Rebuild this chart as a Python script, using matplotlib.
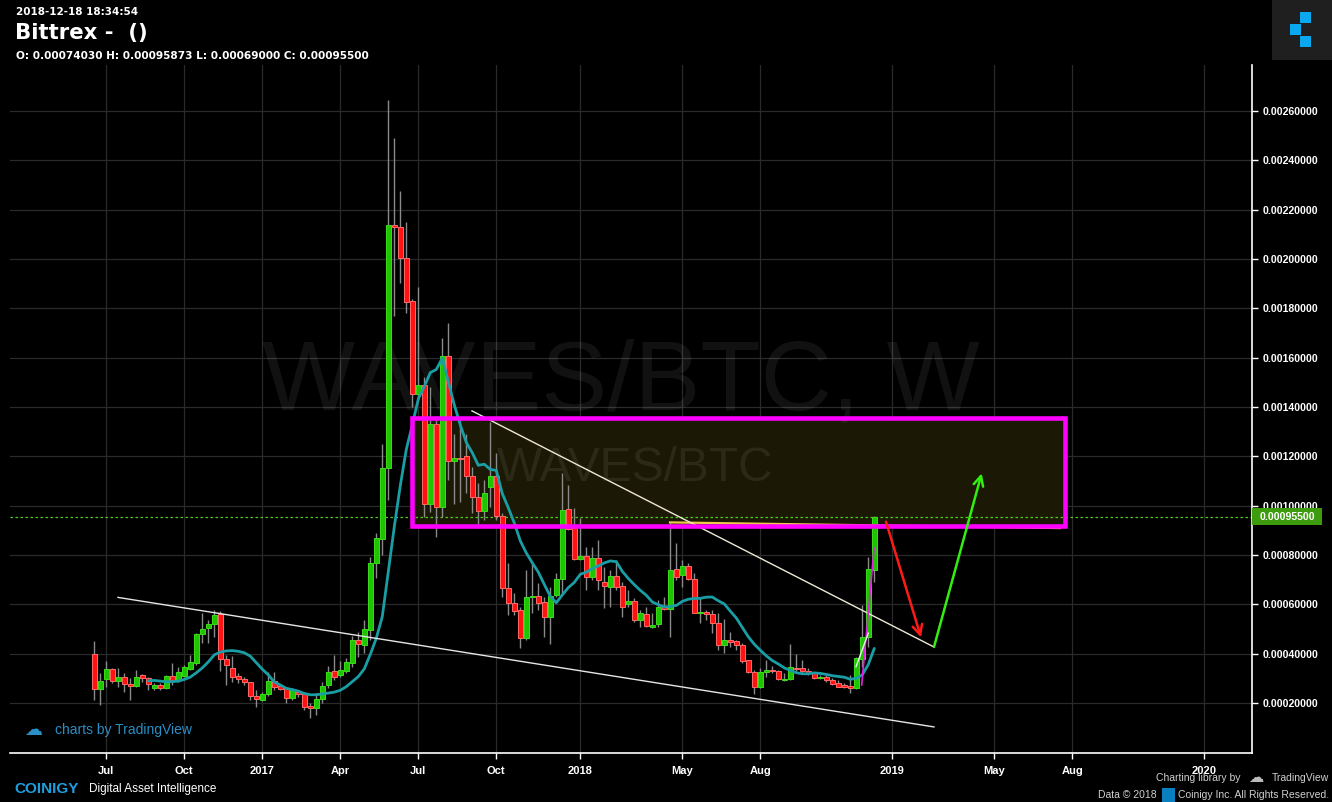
import numpy as np
import pandas as pd
import matplotlib
matplotlib.use("Agg")
import matplotlib.pyplot as plt
import matplotlib.dates as mdates
import matplotlib.transforms as mtransforms
from matplotlib.patches import Rectangle

# ---------------- data (weekly WAVES/BTC candles, prices in 1e-5 BTC) ----------------
FIRST_WEEK = "2016-06-20"
N_WEEKS = 131
OPEN_E5 = [39.7, 25.8, 29.9, 33.7, 28.8, 30.4, 27.7, 26.8, 31.2, 30.0,
           26.2, 27.2, 26.2, 30.8, 29.2, 31.1, 33.9, 36.3, 47.9, 50.3,
           51.9, 56.1, 37.7, 34.1, 30.8, 29.6, 28.4, 22.7, 21.3, 23.5,
           28.9, 26.8, 26.0, 21.9, 24.3, 23.5, 18.7, 17.8, 21.5, 27.3,
           32.9, 31.5, 33.1, 36.3, 45.5, 43.6, 49.6, 76.6, 86.6, 115.1,
           213.7, 212.9, 200.3, 183.0, 145.1, 148.9, 100.6, 133.0, 99.6, 160.7,
           118.0, 119.3, 120.1, 111.9, 103.4, 98.0, 107.7, 111.9, 95.8, 66.5,
           60.7, 57.7, 46.5, 62.9, 63.4, 60.8, 55.0, 63.8, 70.1, 98.5,
           90.8, 78.5, 79.6, 71.2, 78.7, 68.9, 67.1, 71.5, 67.4, 60.0,
           61.4, 53.6, 56.2, 50.9, 51.9, 59.0, 58.2, 74.2, 71.9, 75.5,
           70.1, 56.6, 57.0, 56.1, 52.3, 43.4, 45.5, 45.0, 43.4, 37.4,
           32.4, 26.4, 32.7, 33.4, 32.9, 29.3, 29.6, 34.3, 34.1, 33.0,
           32.0, 30.1, 30.5, 29.2, 28.2, 27.2, 26.9, 26.0, 37.7, 46.6,
           74.03]
HIGH_E5 = [45.1, 32.2, 37.0, 34.2, 34.2, 32.2, 30.1, 33.4, 31.8, 30.5,
           28.1, 28.1, 31.4, 36.2, 34.7, 35.4, 39.5, 48.3, 56.6, 53.6,
           57.7, 57.4, 39.5, 39.1, 32.0, 30.4, 28.6, 25.3, 24.5, 32.7,
           32.4, 27.6, 26.6, 26.0, 25.3, 24.6, 19.9, 23.9, 28.5, 35.0,
           39.5, 37.0, 38.1, 47.2, 48.9, 53.6, 79.1, 88.8, 125.0, 264.5,
           248.9, 227.6, 214.9, 183.7, 188.8, 152.3, 148.2, 134.7, 167.8, 173.9,
           129.1, 134.7, 128.9, 115.8, 109.1, 110.4, 134.0, 121.2, 97.0, 76.6,
           64.5, 59.0, 73.9, 76.6, 68.5, 63.1, 67.1, 72.6, 113.1, 108.4,
           98.9, 94.9, 83.4, 83.4, 86.1, 75.3, 73.9, 78.0, 69.2, 65.8,
           62.4, 57.7, 59.0, 56.4, 61.8, 63.1, 93.5, 84.7, 78.0, 76.6,
           72.6, 63.1, 57.7, 57.7, 56.4, 53.9, 48.9, 45.5, 44.2, 37.4,
           33.4, 34.3, 37.4, 35.0, 33.4, 32.0, 43.8, 39.7, 37.4, 34.1,
           32.7, 31.4, 31.4, 30.0, 29.3, 28.0, 31.4, 38.8, 59.7, 79.1,
           95.873]
LOW_E5 = [21.2, 19.2, 26.6, 28.1, 26.6, 24.6, 21.2, 26.6, 28.5, 25.3,
          25.3, 25.3, 25.7, 27.3, 28.6, 30.7, 33.4, 35.4, 44.2, 44.3,
          46.9, 33.1, 27.3, 28.6, 28.1, 27.3, 21.2, 18.3, 20.8, 22.8,
          25.3, 25.3, 20.1, 21.2, 22.4, 17.2, 14.0, 15.3, 20.0, 26.1,
          29.3, 30.7, 32.3, 34.7, 38.8, 40.1, 45.5, 70.6, 80.0, 102.3,
          176.9, 190.4, 178.2, 140.1, 142.8, 95.5, 97.6, 87.4, 95.5, 110.4,
          100.6, 101.6, 105.0, 96.9, 90.8, 94.2, 99.6, 94.0, 63.1, 55.7,
          55.7, 42.2, 45.5, 56.4, 57.7, 46.9, 43.9, 63.1, 64.5, 90.1,
          78.0, 78.0, 65.8, 69.9, 65.8, 58.4, 59.0, 65.8, 55.0, 59.0,
          53.0, 50.9, 50.9, 50.3, 50.9, 57.7, 46.9, 69.9, 67.1, 69.9,
          56.4, 52.3, 53.6, 48.3, 41.5, 40.4, 42.8, 41.5, 36.1, 32.0,
          23.6, 26.0, 30.7, 32.0, 29.3, 29.0, 29.3, 33.0, 32.0, 31.4,
          29.6, 29.9, 28.6, 27.3, 26.4, 26.1, 23.9, 25.6, 34.7, 42.8,
          69.0]
CLOSE_E5 = [25.6, 28.8, 33.7, 28.8, 30.4, 27.6, 27.0, 30.4, 30.0, 27.6,
            27.2, 26.2, 30.8, 29.3, 32.4, 34.5, 36.5, 47.9, 49.9, 51.9,
            55.6, 37.7, 35.5, 30.4, 29.6, 28.6, 22.7, 21.5, 23.5, 28.9,
            26.6, 25.8, 21.9, 25.3, 23.5, 18.5, 17.9, 21.5, 26.8, 32.4,
            30.4, 33.4, 36.6, 45.5, 44.0, 49.9, 76.6, 86.8, 115.1, 213.7,
            212.9, 200.3, 182.7, 145.1, 148.9, 100.6, 133.0, 99.6, 160.7, 118.0,
            119.3, 118.9, 111.9, 103.4, 98.0, 105.0, 111.9, 95.8, 66.5, 60.7,
            57.4, 46.5, 62.9, 63.4, 60.4, 55.0, 63.4, 70.1, 98.2, 90.4,
            78.5, 79.6, 71.2, 78.9, 69.9, 67.6, 71.5, 67.1, 59.0, 61.4,
            53.5, 56.5, 51.3, 51.6, 58.8, 58.2, 73.9, 71.2, 75.5, 70.1,
            56.6, 57.0, 56.0, 52.3, 43.4, 45.5, 44.7, 43.4, 37.1, 32.4,
            26.4, 32.7, 33.4, 33.0, 29.6, 29.7, 34.5, 33.9, 32.9, 32.3,
            30.0, 30.7, 29.2, 27.8, 26.6, 26.6, 26.0, 38.1, 46.6, 74.2,
            95.5]
PRICE_UNIT = 1e-5
SMA_PERIOD = 10

Y_TICKS = [0.0002, 0.0004, 0.0006, 0.0008, 0.0010, 0.0012, 0.0014,
           0.0016, 0.0018, 0.0020, 0.0022, 0.0024, 0.0026]
X_TICK_DATES = ["2016-07-04", "2016-10-03", "2017-01-02", "2017-04-03", "2017-07-03",
                "2017-10-02", "2018-01-08", "2018-05-07", "2018-08-06", "2019-01-07",
                "2019-05-06", "2019-08-05", "2020-01-06"]
X_TICK_LABELS = ["Jul", "Oct", "2017", "Apr", "Jul", "Oct", "2018", "May", "Aug",
                 "2019", "May", "Aug", "2020"]

LAST_PRICE = 0.000955
HEADER_TIME = "2018-12-18 18:34:54"
HEADER_TITLE = "Bittrex -  ()"
HEADER_OHLC = "O: 0.00074030 H: 0.00095873 L: 0.00069000 C: 0.00095500"
WATERMARK = "WAVES/BTC, W"
WATERMARK_SMALL = "WAVES/BTC"

# drawings
ZONE_DATES = ["2017-06-25 07:00", "2019-07-27 12:00"]
ZONE_PRICES = [0.000916, 0.001357]
LOWER_TREND_DATES = ["2016-07-17 15:00", "2019-02-24 15:00"]
LOWER_TREND_PRICES = [0.000628, 0.000103]
UPPER_TREND_DATES = ["2017-09-03 15:00", "2019-02-24 15:00"]
UPPER_TREND_PRICES = [0.001384, 0.000427]
SUPPORT_DATES = ["2018-04-22 16:00", "2019-07-21 16:00"]
SUPPORT_PRICES = [0.000932, 0.000909]
RED_ARROW_DATES = ["2018-12-30 15:00", "2019-02-09 12:00"]
RED_ARROW_PRICES = [0.000935, 0.000466]
GREEN_ARROW_DATES = ["2019-02-24 15:00", "2019-04-21 08:00"]
GREEN_ARROW_PRICES = [0.000427, 0.001131]
MAGENTA_RAY_DATES = ["2018-12-02 07:00", "2018-12-16 19:00"]
MAGENTA_RAY_PRICES = [0.000273, 0.000827]
WHITE_RAY_DATES = ["2018-11-25 16:00", "2018-12-10 00:00"]
WHITE_RAY_PRICES = [0.000347, 0.000483]

# ---------------- figure ----------------
W, H = 1332, 802
fig = plt.figure(figsize=(W / 100, H / 100), dpi=100, facecolor="black")


def fp(x, y):
    return x / W, 1 - y / H


ax = fig.add_axes([10 / W, 1 - 753 / H, (1252 - 10) / W, (753 - 65) / H])
ax.set_facecolor("black")


def dnum(seq):
    return mdates.date2num(pd.to_datetime(seq))


dates = pd.date_range(FIRST_WEEK, periods=N_WEEKS, freq="7D")
x = mdates.date2num(dates)
o = np.array(OPEN_E5) * PRICE_UNIT
h = np.array(HIGH_E5) * PRICE_UNIT
l = np.array(LOW_E5) * PRICE_UNIT
c = np.array(CLOSE_E5) * PRICE_UNIT

d0 = mdates.date2num(pd.Timestamp(FIRST_WEEK))
ax.set_xlim(d0 - 98.35, d0 + 1350.65)
ymin, ymax = -0.0000027, 0.002786
ax.set_ylim(ymin, ymax)

# grid
ax.set_axisbelow(True)
ax.grid(True, color="#2a2a2a", lw=0.9)

# zone fill
zx = dnum(ZONE_DATES)
ax.add_patch(Rectangle((zx[0], ZONE_PRICES[0]), zx[1] - zx[0], ZONE_PRICES[1] - ZONE_PRICES[0],
                       facecolor="#1b1905", edgecolor="none", zorder=0.8))

# watermarks
ax.text(*fp(262, 409), WATERMARK, transform=fig.transFigure, fontsize=71,
        family="Liberation Sans", color=(1, 1, 1, 0.07), va="baseline", ha="left", zorder=1)
ax.text(*fp(497, 481), WATERMARK_SMALL, transform=fig.transFigure, fontsize=34.5,
        family="Liberation Sans", color=(1, 1, 1, 0.075), va="baseline", ha="left", zorder=1)

# last price dotted line
ax.axhline(LAST_PRICE, color="#4ccc1c", lw=0.9, ls=(0, (2, 2)), zorder=1.5)

# candles
ax.vlines(x, l, h, color="#8a8a8a", lw=1.0, zorder=2)
up = c >= o
bot = np.minimum(o, c)
bh = np.maximum(np.abs(c - o), 3.5e-6)
ax.bar(x[up], bh[up], bottom=bot[up], width=5.3, color="#1ec400",
       edgecolor="#3ade18", lw=0.7, zorder=3)
ax.bar(x[~up], bh[~up], bottom=bot[~up], width=5.3, color="#ff1212",
       edgecolor="#ff6a6a", lw=0.7, zorder=3)

# moving average
sma = pd.Series(c).rolling(SMA_PERIOD).mean()
ax.plot(x, sma, color="#1a9ea6", lw=2.0, zorder=4, solid_capstyle="round")

# drawings
ax.plot(dnum(LOWER_TREND_DATES), LOWER_TREND_PRICES, color="#e6e6e6", lw=1.0, zorder=5)
ax.plot(dnum(UPPER_TREND_DATES), UPPER_TREND_PRICES, color="#eee8d8", lw=1.0, zorder=5)
ax.plot(dnum(SUPPORT_DATES), SUPPORT_PRICES, color="#f2c94c", lw=1.6, zorder=4.5)
ax.add_patch(Rectangle((zx[0], ZONE_PRICES[0]), zx[1] - zx[0], ZONE_PRICES[1] - ZONE_PRICES[0],
                       fill=False, edgecolor="#ff00ff", lw=3.3, zorder=5))
ax.plot(dnum(MAGENTA_RAY_DATES), MAGENTA_RAY_PRICES, color="#e020e0", lw=1.2, zorder=5)
ax.plot(dnum(WHITE_RAY_DATES), WHITE_RAY_PRICES, color="#f0f0f0", lw=1.0, zorder=5)

rx = dnum(RED_ARROW_DATES)
ax.annotate("", xy=(rx[1], RED_ARROW_PRICES[1]), xytext=(rx[0], RED_ARROW_PRICES[0]),
            arrowprops=dict(arrowstyle="->,head_length=0.7,head_width=0.35", color="#ff1a1a",
                            lw=1.8, shrinkA=0, shrinkB=0), zorder=6)
gx = dnum(GREEN_ARROW_DATES)
ax.annotate("", xy=(gx[1], GREEN_ARROW_PRICES[1]), xytext=(gx[0], GREEN_ARROW_PRICES[0]),
            arrowprops=dict(arrowstyle="->,head_length=0.7,head_width=0.35", color="#33ee11",
                            lw=1.8, shrinkA=0, shrinkB=0), zorder=6)

# axes styling
for s in ("left", "top"):
    ax.spines[s].set_visible(False)
for s in ("right", "bottom"):
    ax.spines[s].set_color("white")
    ax.spines[s].set_linewidth(1.2)
ax.yaxis.tick_right()
ax.set_yticks(Y_TICKS)
ax.set_yticklabels([f"{v:.8f}" for v in Y_TICKS])
ax.set_xticks(dnum(X_TICK_DATES))
ax.set_xticklabels(X_TICK_LABELS)
ax.tick_params(axis="y", colors="white", length=4, width=1, pad=4)
ax.tick_params(axis="x", colors="white", length=4, width=1, pad=5)
for t in ax.get_yticklabels():
    t.set_fontfamily("Liberation Sans")
    t.set_fontweight("bold")
    t.set_fontsize(7.6)
for t in ax.get_xticklabels():
    t.set_fontfamily(["Liberation Sans Narrow", "Liberation Sans"])
    t.set_fontweight("bold")
    t.set_fontsize(8)

# last price label on the axis
blend = mtransforms.blended_transform_factory(ax.transAxes, ax.transData)
px_per_val = 688 / (ymax - ymin)
lab_h = 17 / px_per_val
ax.add_patch(Rectangle((1.0, LAST_PRICE - lab_h / 2), 70 / 1242, lab_h, transform=blend,
                       facecolor="#3c9c0e", edgecolor="none", clip_on=False, zorder=7))
ax.text(1.0 + 8 / 1242, LAST_PRICE, f"{LAST_PRICE:.8f}", transform=blend, color="white",
        fontsize=7.6, fontweight="bold", family="Liberation Sans", va="center", ha="left",
        zorder=8, clip_on=False)

# header
fig.text(*fp(16, 12), HEADER_TIME, color="white", fontsize=7.5, fontweight="bold",
         family="DejaVu Sans", va="center", ha="left")
fig.text(*fp(15, 33), HEADER_TITLE, color="white", fontsize=15.3, fontweight="bold",
         family="DejaVu Sans", va="center", ha="left")
fig.text(*fp(16, 56), HEADER_OHLC, color="white", fontsize=7.55, fontweight="bold",
         family="DejaVu Sans", va="center", ha="left")

# top-right logo
fig.add_artist(Rectangle(fp(1272, 60), 60 / W, 60 / H, transform=fig.transFigure,
                         facecolor="#1f1f1f", edgecolor="none"))
for (bx, by) in [(1300, 12), (1290, 24), (1300, 36)]:
    fig.add_artist(Rectangle(fp(bx, by + 11), 11 / W, 11 / H, transform=fig.transFigure,
                             facecolor="#0aa8ee", edgecolor="none"))

# footer branding
fig.text(*fp(24, 730), "\u2601", color="#2a8fc6", fontsize=13, family="DejaVu Sans",
         va="center", ha="left")
fig.text(*fp(55, 730), "charts by TradingView", color="#2a8fc6", fontsize=10,
         family=["Liberation Sans Narrow", "Liberation Sans"], va="center", ha="left")
fig.text(*fp(14, 789), "COINIGY", color="#1ea0e0", fontsize=11, fontweight="bold",
         family="Liberation Sans", va="center", ha="left")
fig.text(*fp(89, 789), "Digital Asset Intelligence", color="white", fontsize=8.5,
         family=["Liberation Sans Narrow", "Liberation Sans"], va="center", ha="left")
fig.text(*fp(1240, 778), "Charting library by", color="#d0d0d0", fontsize=7.5,
         family=["Liberation Sans Narrow", "Liberation Sans"], va="center", ha="right")
fig.text(*fp(1248, 778), "\u2601", color="#bbbbbb", fontsize=11, family="DejaVu Sans",
         va="center", ha="left")
fig.text(*fp(1329, 778), "TradingView", color="#d0d0d0", fontsize=7.5,
         family=["Liberation Sans Narrow", "Liberation Sans"], va="center", ha="right")
fig.text(*fp(1157, 795), "Data \u00a9 2018", color="#d0d0d0", fontsize=7.5,
         family=["Liberation Sans Narrow", "Liberation Sans"], va="center", ha="right")
fig.add_artist(Rectangle(fp(1162, 802), 13 / W, 14 / H, transform=fig.transFigure,
                         facecolor="#0a7fc0", edgecolor="none"))
fig.text(*fp(1329, 795), "Coinigy Inc. All Rights Reserved.", color="#d0d0d0", fontsize=7.5,
         family=["Liberation Sans Narrow", "Liberation Sans"], va="center", ha="right")

fig.savefig("out.png", dpi=100, facecolor="black")
